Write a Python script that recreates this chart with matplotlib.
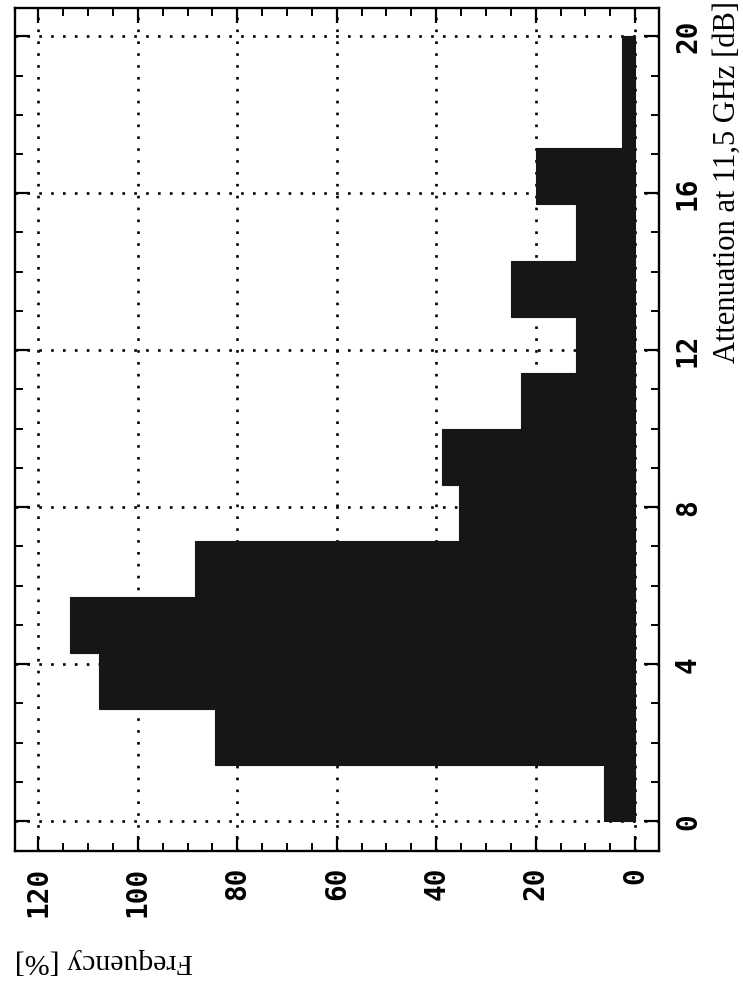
import numpy as np
import matplotlib
matplotlib.use("Agg")
import matplotlib.pyplot as plt

# histogram (chart is printed rotated by 90 degrees)
bin_width = 20 / 14
bin_start = [0.0, 1.4286, 2.8571, 4.2857, 5.7143, 7.1429, 8.5714,
             10.0, 11.4286, 12.8571, 14.2857, 15.7143, 17.1429, 18.5714]
frequency = [6.2, 84.4, 107.8, 113.6, 88.5, 35.5, 38.8, 23.0, 11.8, 25.0, 11.9, 20.0, 2.7, 2.7]

freq_ticks = [0, 20, 40, 60, 80, 100, 120]
att_ticks = [0, 4, 8, 12, 16, 20]

W, H = 743, 985
fig = plt.figure(figsize=(W / 100, H / 100), dpi=100)
fig.patch.set_facecolor("white")

# axes frame in pixel coords of the reference
left, right, top, bottom = 15, 659, 8, 851
ax = fig.add_axes([left / W, 1 - bottom / H, (right - left) / W, (bottom - top) / H])

ax.barh(bin_start, frequency, height=bin_width, align="edge",
        color="#161616", edgecolor="#161616", linewidth=0.8, zorder=3)

ax.set_xlim(124.7, -4.8)
ax.set_ylim(-0.76, 20.72)

ax.set_xticks(freq_ticks)
ax.set_xticks(np.arange(0, 125, 5), minor=True)
ax.set_yticks(att_ticks)
ax.set_yticks(np.arange(0, 21, 1), minor=True)

ax.yaxis.tick_right()
ax.tick_params(which="both", direction="in", top=True, bottom=True, left=True, right=True,
               labelleft=False, labelright=True, labelbottom=True, labeltop=False, color="black")
ax.tick_params(which="major", length=11, width=1.6)
ax.tick_params(which="minor", length=6, width=1.4)
ax.tick_params(axis="x", which="major", pad=11.5)
ax.tick_params(axis="y", which="major", pad=10.8)

tick_font = dict(family="DejaVu Sans Mono", size=20, weight="bold")
ax.set_xticklabels([str(t) for t in freq_ticks], rotation=90, va="top", ha="center", **tick_font)
ax.set_yticklabels([str(t) for t in att_ticks], rotation=90, va="center", ha="left", **tick_font)

ax.grid(True, which="major", color="black", linestyle=(0, (1, 3.5)), linewidth=1.9)
ax.set_axisbelow(True)

for sp in ax.spines.values():
    sp.set_linewidth(1.7)

fig.text(727 / W, 1 - 182 / H, "Attenuation at 11,5 GHz [dB]", rotation=90,
         ha="center", va="center", family="Liberation Serif", size=22)
fig.text(15 / W, 1 - 961 / H, "Frequency [%]", rotation=180,
         ha="left", va="center", family="Liberation Serif", size=21.5)

fig.savefig("out.png", dpi=100)
